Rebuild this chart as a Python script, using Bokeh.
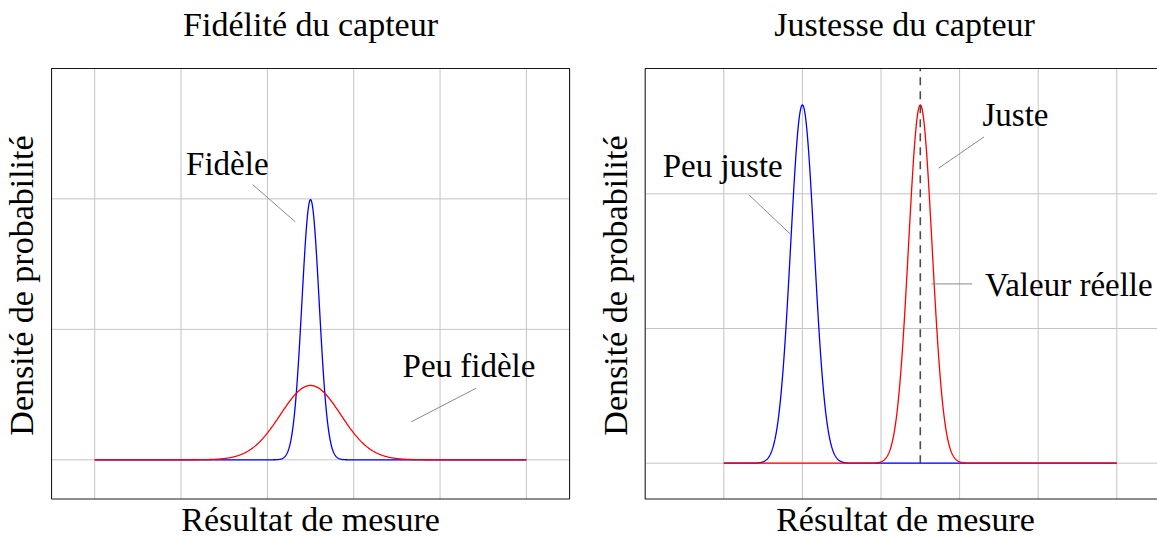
import numpy as np
from bokeh.plotting import figure
from bokeh.models import Label, Range1d
from bokeh.layouts import row
from bokeh.embed import file_html
from bokeh.resources import INLINE

FONT = "Liberation Serif"
x_label = "Résultat de mesure"
y_label = "Densité de probabilité"

# ---------------- left panel data ----------------
left_title = "Fidélité du capteur"
left_x_ticks = [0, 2, 4, 6, 8, 10]
left_y_ticks = [0, 1, 2]
left_domain = [0, 10]
left_box_x = [-1.0, 11.0]      # visible axis box (data units)
left_box_y = [-0.3, 3.0]
left_names = ["Fidèle", "Peu fidèle"]
left_means = [5.0, 5.0]
left_sigmas = [0.2, 0.7]
left_colors = ["#0000ff", "#ff0000"]
left_text_x = [3.072, 8.67]
left_text_y = [2.271, 0.719]
left_pin_x0 = [3.658, 8.837]
left_pin_y0 = [2.110, 0.549]
left_pin_x1 = [4.647, 7.332]
left_pin_y1 = [1.824, 0.291]

# ---------------- right panel data ----------------
right_title = "Justesse du capteur"
right_x_ticks = [0, 1, 2, 3, 4, 5]
right_y_ticks = [0, 1, 2]
right_domain = [0, 5]
right_box_x = [-1.0]           # only the left edge is inside the picture
right_box_y = [-0.266, 2.930]
right_names = ["Peu juste", "Juste"]
right_means = [1.0, 2.5]
right_sigmas = [0.15, 0.15]
right_colors = ["#0000ff", "#ff0000"]
true_value = 2.5
true_value_label = "Valeur réelle"
right_text_x = [-0.014, 3.711]
right_text_y = [2.207, 2.585]
right_pin_x0 = [0.318, 3.310]
right_pin_y0 = [1.993, 2.422]
right_pin_x1 = [0.845, 2.732]
right_pin_y1 = [1.702, 2.190]
true_text_x = 4.390
true_text_y = 1.326
true_pin_x = [3.160, 2.641]
true_pin_y = [1.331, 1.331]

GRID = "#c4c4c4"
PIN = "#8a8a8a"
BOX = "#1a1a1a"


def gauss(x, m, s):
    return np.exp(-0.5 * ((x - m) / s) ** 2) / (s * np.sqrt(2 * np.pi))


def make_fig(width, xr, yr):
    p = figure(width=width, height=538, x_range=Range1d(*xr), y_range=Range1d(*yr),
               x_axis_location=None, y_axis_location=None,
               toolbar_location=None, output_backend="svg",
               min_border=0, min_border_left=0, min_border_right=0,
               min_border_top=0, min_border_bottom=0)
    p.grid.visible = False
    p.outline_line_color = None
    p.background_fill_color = "white"
    p.border_fill_color = "white"
    return p


def add_grid(p, xt, yt, bx0, bx1, by0, by1):
    p.segment(x0=xt, y0=[by0] * len(xt), x1=xt, y1=[by1] * len(xt),
              line_color=GRID, line_width=1)
    p.segment(x0=[bx0] * len(yt), y0=yt, x1=[bx1] * len(yt), y1=yt,
              line_color=GRID, line_width=1)


def add_text(p, x, y, text, size="34px", align="center", angle=0.0):
    p.add_layout(Label(x=x, y=y, text=text, text_font=FONT, text_font_size=size,
                       text_align=align, text_baseline="alphabetic",
                       text_color="black", angle=angle))


W1 = 598
W2 = 1157 - W1

# ---------------- left ----------------
lxr = (-94.2 / 43.17, (W1 - 94.2) / 43.17)
lyr = ((459.3 - 538) / 130.45, 459.3 / 130.45)
p1 = make_fig(W1, lxr, lyr)
add_grid(p1, left_x_ticks, left_y_ticks, left_box_x[0], left_box_x[1],
         left_box_y[0], left_box_y[1])
xs = np.linspace(left_domain[0], left_domain[1], 1200)
for m, s, c in zip(left_means, left_sigmas, left_colors):
    p1.line(xs, gauss(xs, m, s), line_color=c, line_width=1.3)
p1.line([left_box_x[0], left_box_x[1], left_box_x[1], left_box_x[0], left_box_x[0]],
        [left_box_y[0], left_box_y[0], left_box_y[1], left_box_y[1], left_box_y[0]],
        line_color=BOX, line_width=1.1)
p1.segment(left_pin_x0, left_pin_y0, left_pin_x1, left_pin_y1, line_color=PIN, line_width=1)
for tx, ty, name in zip(left_text_x, left_text_y, left_names):
    add_text(p1, tx, ty, name, size="33px")
add_text(p1, 5.0, 3.336, left_title)
add_text(p1, 5.0, -0.456, x_label)
add_text(p1, -1.696, 1.336, y_label, angle=np.pi / 2)

# ---------------- right ----------------
rxr = ((W1 - 723.3) / 78.6, (1157 - 723.3) / 78.6)
ryr = ((462.7 - 538) / 134.7, 462.7 / 134.7)
p2 = make_fig(W2, rxr, ryr)
add_grid(p2, right_x_ticks, right_y_ticks, right_box_x[0], rxr[1] + 1,
         right_box_y[0], right_box_y[1])
xs2 = np.linspace(right_domain[0], right_domain[1], 1200)
for m, s, c in zip(right_means, right_sigmas, right_colors):
    p2.line(xs2, gauss(xs2, m, s), line_color=c, line_width=1.3)
p2.line([true_value, true_value], [0, right_box_y[1]], line_color="#4d4d4d",
        line_width=1.6, line_dash="8 6")
p2.line([rxr[1] + 1, right_box_x[0], right_box_x[0], rxr[1] + 1],
        [right_box_y[1], right_box_y[1], right_box_y[0], right_box_y[0]],
        line_color=BOX, line_width=1.1)
p2.segment(right_pin_x0, right_pin_y0, right_pin_x1, right_pin_y1, line_color=PIN, line_width=1)
p2.segment([true_pin_x[0]], [true_pin_y[0]], [true_pin_x[1]], [true_pin_y[1]],
           line_color=PIN, line_width=1)
for tx, ty, name in zip(right_text_x, right_text_y, right_names):
    add_text(p2, tx, ty, name, size="33px")
add_text(p2, true_text_x, true_text_y, true_value_label, size="33px")
add_text(p2, 2.299, 3.257, right_title)
add_text(p2, 2.312, -0.415, x_label)
add_text(p2, -1.378, 1.319, y_label, angle=np.pi / 2)

layout = row(p1, p2)
open("out.html", "w").write(file_html(layout, INLINE))
